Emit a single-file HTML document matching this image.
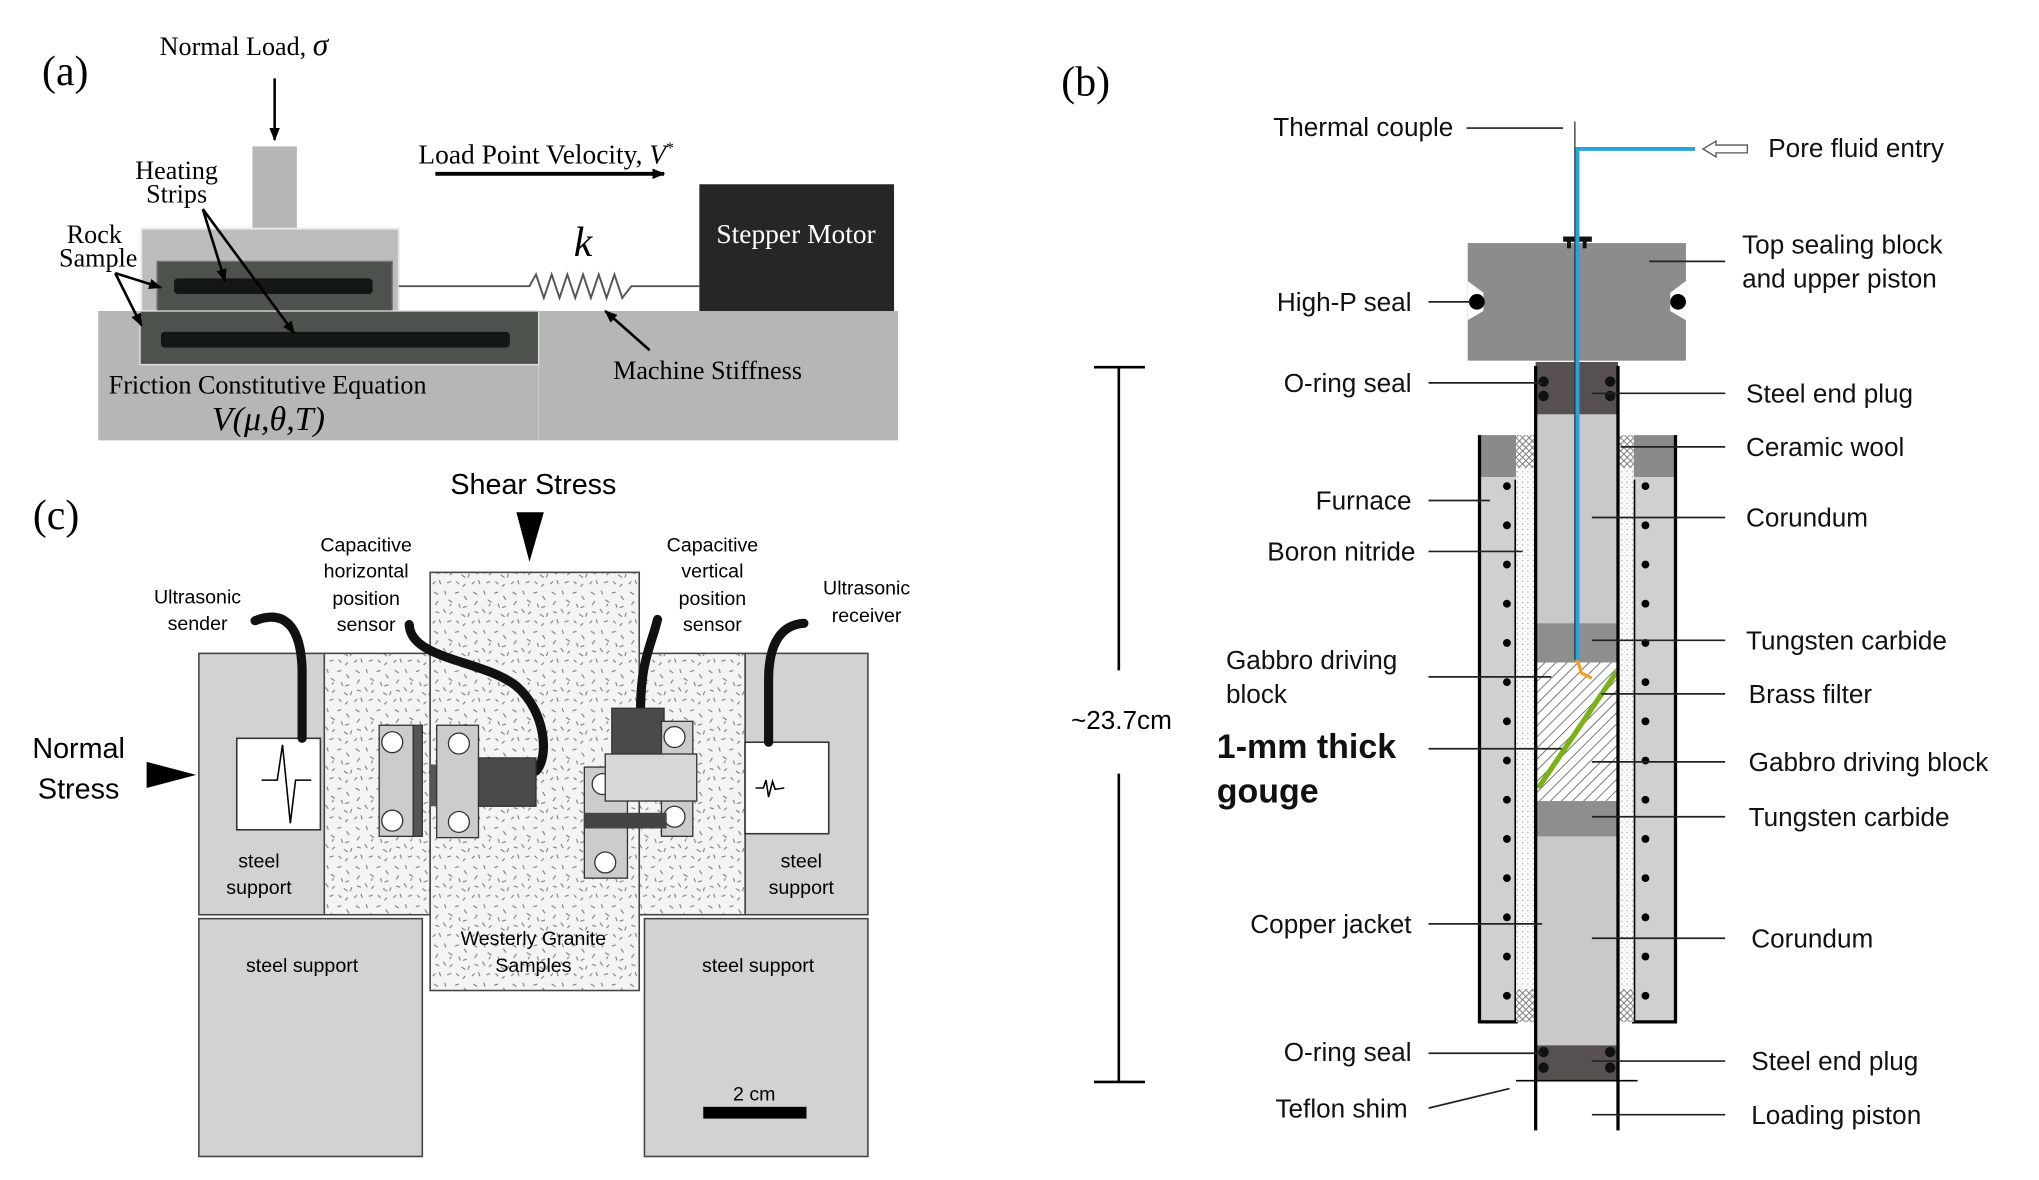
<!DOCTYPE html>
<html><head><meta charset="utf-8"><style>
html,body{margin:0;padding:0;background:#fff;}
svg{display:block;}
.sf{font-family:"Liberation Serif",serif;}
.ss{font-family:"Liberation Sans",sans-serif;}
</style></head><body>
<svg width="2039" height="1180" viewBox="0 0 1560 903" xmlns="http://www.w3.org/2000/svg">
<defs>
<pattern id="spk" width="30" height="30" patternUnits="userSpaceOnUse">
<rect width="30" height="30" fill="#f4f4f4"/>
<g stroke="#777" stroke-width="0.8">
<path d="M2,3l3,2M10,2l1,3M18,4l3,-1M25,6l2,3M5,10l-2,3M13,9l3,2M21,12l1,3M27,14l-3,1M3,18l3,1M9,16l2,3M16,18l-2,2M23,20l3,2M6,24l1,3M12,26l3,-1M19,25l2,2M26,27l-2,2M14,14l1,-2M28,22l1,-3M1,27l2,-2"/>
</g></pattern>
<pattern id="hatch" width="6" height="6" patternUnits="userSpaceOnUse" patternTransform="rotate(45)">
<rect width="6" height="6" fill="#fff"/><line x1="0" y1="0" x2="0" y2="6" stroke="#555" stroke-width="1.2"/></pattern>
<pattern id="xh" width="5" height="5" patternUnits="userSpaceOnUse">
<rect width="5" height="5" fill="#fff"/><path d="M0,0L5,5M5,0L0,5" stroke="#777" stroke-width="0.7"/></pattern>
<pattern id="dots" width="4" height="4" patternUnits="userSpaceOnUse">
<rect width="4" height="4" fill="#fbfbfb"/><circle cx="1" cy="1" r="0.5" fill="#999"/><circle cx="3" cy="3" r="0.4" fill="#bbb"/></pattern>
<marker id="ah" markerWidth="10" markerHeight="8" refX="9" refY="4" orient="auto" markerUnits="userSpaceOnUse"><path d="M0,0L10,4L0,8z" fill="#000"/></marker>
</defs>

<!-- ===== Panel (a) ===== -->
<text x="32" y="65" class="sf" font-size="32">(a)</text>
<rect x="75" y="238" width="612" height="99" fill="#b6b6b6"/>
<line x1="412" y1="238" x2="412" y2="337" stroke="#c8c8c8" stroke-width="1"/>
<rect x="193" y="112" width="34" height="65" fill="#b6b6b6"/>
<rect x="108" y="175" width="197" height="63" fill="#bcbcbc" stroke="#e8e8e8" stroke-width="1.5"/>
<rect x="120" y="200" width="180" height="38" fill="#4d524d" stroke="#777" stroke-width="1"/>
<rect x="133" y="213" width="152" height="12" rx="3" fill="#141814"/>
<rect x="107" y="238" width="305" height="41" fill="#4d524d" stroke="#ddd" stroke-width="1"/>
<rect x="123" y="254" width="267" height="12" rx="3" fill="#141814"/>
<rect x="535" y="141" width="149" height="97" fill="#262626"/>
<text x="609" y="186" class="sf" font-size="21" fill="#fff" text-anchor="middle">Stepper Motor</text>
<polyline points="305,219 405,219 410,210 416,228 422,210 428,228 434,210 440,228 446,210 452,228 458,210 464,228 470,210 476,228 483,219 535,219" fill="none" stroke="#555" stroke-width="1.5"/>
<text x="446" y="196" class="sf" font-size="32" font-style="italic" text-anchor="middle">k</text>
<text x="320" y="125" class="sf" font-size="21">Load Point Velocity, <tspan font-style="italic">V</tspan><tspan font-size="12" dy="-8">*</tspan></text>
<line x1="333" y1="133" x2="508" y2="133" stroke="#000" stroke-width="3" marker-end="url(#ah)"/>
<text x="122" y="42" class="sf" font-size="20">Normal Load, <tspan font-style="italic" font-size="24">σ</tspan></text>
<line x1="210" y1="60" x2="210" y2="107" stroke="#000" stroke-width="2" marker-end="url(#ah)"/>
<text x="135" y="137" class="sf" font-size="20" text-anchor="middle">Heating</text>
<text x="135" y="155" class="sf" font-size="20" text-anchor="middle">Strips</text>
<text x="72" y="186" class="sf" font-size="20" text-anchor="middle">Rock</text>
<text x="75" y="204" class="sf" font-size="20" text-anchor="middle">Sample</text>
<g stroke="#000" stroke-width="2" fill="none">
<line x1="155" y1="160" x2="172" y2="215" marker-end="url(#ah)"/>
<line x1="155" y1="160" x2="225" y2="255" marker-end="url(#ah)"/>
<line x1="88" y1="209" x2="123" y2="220" marker-end="url(#ah)"/>
<line x1="88" y1="209" x2="108" y2="249" marker-end="url(#ah)"/>
<line x1="497" y1="268" x2="463" y2="238" marker-end="url(#ah)"/>
</g>
<text x="83" y="301" class="sf" font-size="20">Friction Constitutive Equation</text>
<text x="162" y="329" class="sf" font-size="26" font-style="italic">V(μ,θ,T)</text>
<text x="469" y="290" class="sf" font-size="20">Machine Stiffness</text>

<!-- ===== Panel (c) ===== -->
<text x="25" y="405" class="sf" font-size="32">(c)</text>
<text x="408" y="378" class="ss" font-size="22" text-anchor="middle">Shear Stress</text>
<path d="M395,392L416,392L405,430z" fill="#000"/>
<text x="60" y="580" class="ss" font-size="22" text-anchor="middle">Normal</text>
<text x="60" y="611" class="ss" font-size="22" text-anchor="middle">Stress</text>
<path d="M112,583L150,593L112,603z" fill="#000"/>
<rect x="152" y="500" width="96" height="200" fill="#d2d2d2" stroke="#444" stroke-width="1.2"/>
<rect x="570" y="500" width="94" height="200" fill="#d2d2d2" stroke="#444" stroke-width="1.2"/>
<rect x="248" y="500" width="81" height="200" fill="url(#spk)" stroke="#444" stroke-width="1.2"/>
<rect x="489" y="500" width="81" height="200" fill="url(#spk)" stroke="#444" stroke-width="1.2"/>
<rect x="329" y="438" width="160" height="320" fill="url(#spk)" stroke="#444" stroke-width="1.2"/>
<rect x="152" y="703" width="171" height="182" fill="#d2d2d2" stroke="#444" stroke-width="1.2"/>
<rect x="493" y="703" width="171" height="182" fill="#d2d2d2" stroke="#444" stroke-width="1.2"/>
<rect x="181" y="565" width="64" height="70" fill="#fff" stroke="#333" stroke-width="1.2"/>
<rect x="570" y="568" width="64" height="70" fill="#fff" stroke="#333" stroke-width="1.2"/>
<polyline points="200,597 212,597 216,570 222,630 226,597 238,597" fill="none" stroke="#000" stroke-width="1.2"/>
<polyline points="578,603 584,603 586,597 588,610 591,598 593,604 600,603" fill="none" stroke="#000" stroke-width="1.2"/>
<!-- cables -->
<g stroke="#111" stroke-width="7" fill="none" stroke-linecap="round">
<path d="M195,475C218,466 230,480 231,512L231,565"/>
<path d="M313,478C314,505 370,505 395,525C418,545 420,580 410,590"/>
<path d="M503,474C498,495 490,505 490,545"/>
<path d="M615,477C598,478 588,492 588,520L588,568"/>
</g>
<!-- left sensor -->
<rect x="290" y="555" width="26" height="85" fill="#ccc" stroke="#333"/>
<rect x="316" y="555" width="7" height="85" fill="#555" stroke="#333"/>
<circle cx="300" cy="568" r="8" fill="#fff" stroke="#333"/>
<circle cx="300" cy="628" r="8" fill="#fff" stroke="#333"/>
<rect x="329" y="585" width="5" height="32" fill="#555"/>
<rect x="334" y="555" width="32" height="86" fill="#ccc" stroke="#333"/>
<circle cx="351" cy="569" r="8" fill="#fff" stroke="#333"/>
<circle cx="351" cy="629" r="8" fill="#fff" stroke="#333"/>
<rect x="366" y="580" width="44" height="37" fill="#4a4a4a" stroke="#333"/>
<!-- right sensor -->
<rect x="468" y="542" width="40" height="38" fill="#4a4a4a" stroke="#333"/>
<rect x="447" y="587" width="33" height="85" fill="#ccc" stroke="#333"/>
<circle cx="461" cy="600" r="8" fill="#fff" stroke="#333"/>
<circle cx="463" cy="660" r="8" fill="#fff" stroke="#333"/>
<rect x="506" y="552" width="24" height="88" fill="#ccc" stroke="#333"/>
<circle cx="516" cy="564" r="8" fill="#fff" stroke="#333"/>
<circle cx="516" cy="625" r="8" fill="#fff" stroke="#333"/>
<rect x="463" y="577" width="70" height="36" fill="#d8d8d8" stroke="#333"/>
<rect x="447" y="622" width="63" height="12" fill="#444"/>
<g class="ss" font-size="15" text-anchor="middle">
<text x="151" y="462">Ultrasonic</text><text x="151" y="482">sender</text>
<text x="280" y="422">Capacitive</text><text x="280" y="442">horizontal</text><text x="280" y="463">position</text><text x="280" y="483">sensor</text>
<text x="545" y="422">Capacitive</text><text x="545" y="442">vertical</text><text x="545" y="463">position</text><text x="545" y="483">sensor</text>
<text x="663" y="455">Ultrasonic</text><text x="663" y="476">receiver</text>
<text x="198" y="664">steel</text><text x="198" y="684">support</text>
<text x="613" y="664">steel</text><text x="613" y="684">support</text>
<text x="231" y="744">steel support</text>
<text x="580" y="744">steel support</text>
<text x="408" y="723">Westerly Granite</text><text x="408" y="744">Samples</text>
<text x="577" y="842">2 cm</text>
</g>
<rect x="538" y="847" width="79" height="9" fill="#000"/>

<!-- ===== Panel (b) ===== -->
<text x="812" y="73" class="sf" font-size="32">(b)</text>
<!-- scale bar -->
<g stroke="#000" stroke-width="2">
<line x1="856" y1="281" x2="856" y2="513"/><line x1="856" y1="592" x2="856" y2="828"/>
<line x1="837" y1="281" x2="876" y2="281"/><line x1="837" y1="828" x2="876" y2="828"/>
</g>
<text x="858" y="558" class="ss" font-size="20" text-anchor="middle">~23.7cm</text>
<!-- furnace -->
<rect x="1132" y="333" width="28" height="449" fill="#d0d0d0"/>
<rect x="1132" y="333" width="28" height="32" fill="#8a8a8a"/>
<rect x="1250" y="333" width="32" height="449" fill="#d0d0d0"/>
<rect x="1250" y="333" width="32" height="32" fill="#8a8a8a"/>
<path d="M1132,333L1132,782L1160,782L1160,367" fill="none" stroke="#000" stroke-width="2.5"/>
<path d="M1250,367L1250,782L1282,782L1282,333" fill="none" stroke="#000" stroke-width="2.5"/>
<rect x="1160" y="333" width="15" height="449" fill="url(#dots)"/>
<rect x="1238" y="333" width="12" height="449" fill="url(#dots)"/>
<rect x="1160" y="333" width="15" height="25" fill="url(#xh)"/>
<rect x="1238" y="333" width="12" height="25" fill="url(#xh)"/>
<rect x="1160" y="757" width="15" height="25" fill="url(#xh)"/>
<rect x="1238" y="757" width="12" height="25" fill="url(#xh)"/>
<g fill="#000">
<circle cx="1153" cy="372" r="3"/><circle cx="1153" cy="402" r="3"/><circle cx="1153" cy="432" r="3"/><circle cx="1153" cy="462" r="3"/><circle cx="1153" cy="492" r="3"/><circle cx="1153" cy="522" r="3"/><circle cx="1153" cy="552" r="3"/><circle cx="1153" cy="582" r="3"/><circle cx="1153" cy="612" r="3"/><circle cx="1153" cy="642" r="3"/><circle cx="1153" cy="672" r="3"/><circle cx="1153" cy="702" r="3"/><circle cx="1153" cy="732" r="3"/><circle cx="1153" cy="762" r="3"/>
<circle cx="1259" cy="372" r="3"/><circle cx="1259" cy="402" r="3"/><circle cx="1259" cy="432" r="3"/><circle cx="1259" cy="462" r="3"/><circle cx="1259" cy="492" r="3"/><circle cx="1259" cy="522" r="3"/><circle cx="1259" cy="552" r="3"/><circle cx="1259" cy="582" r="3"/><circle cx="1259" cy="612" r="3"/><circle cx="1259" cy="642" r="3"/><circle cx="1259" cy="672" r="3"/><circle cx="1259" cy="702" r="3"/><circle cx="1259" cy="732" r="3"/><circle cx="1259" cy="762" r="3"/>
</g>
<!-- column -->
<rect x="1175" y="277" width="63" height="550" fill="#c9c9c9"/>
<rect x="1175" y="277" width="63" height="40" fill="#565050"/>
<rect x="1175" y="800" width="63" height="27" fill="#565050"/>
<rect x="1175" y="477" width="63" height="30" fill="#8e8e8e"/>
<rect x="1175" y="507" width="63" height="106" fill="url(#hatch)"/>
<rect x="1175" y="613" width="63" height="27" fill="#8e8e8e"/>
<line x1="1237" y1="514" x2="1177" y2="603" stroke="#7ab317" stroke-width="4"/>
<path d="M1207,505L1210,515L1218,519" fill="none" stroke="#f3a11f" stroke-width="2.5"/>
<g stroke="#000" stroke-width="2.5">
<line x1="1175" y1="280" x2="1175" y2="865"/><line x1="1238" y1="280" x2="1238" y2="865"/>
</g>
<line x1="1160" y1="827" x2="1253" y2="827" stroke="#000" stroke-width="1.2"/>
<g fill="#111">
<circle cx="1181" cy="292" r="4"/><circle cx="1181" cy="303" r="4"/><circle cx="1232" cy="292" r="4"/><circle cx="1232" cy="303" r="4"/>
<circle cx="1181" cy="805" r="4"/><circle cx="1181" cy="817" r="4"/><circle cx="1232" cy="805" r="4"/><circle cx="1232" cy="817" r="4"/>
</g>
<!-- top block -->
<rect x="1123" y="186" width="167" height="90" fill="#8c8c8c"/>
<path d="M1123,215L1135,224L1135,238L1123,245z" fill="#fff"/>
<path d="M1290,215L1278,224L1278,238L1290,245z" fill="#fff"/>
<circle cx="1130" cy="231" r="6" fill="#000"/><circle cx="1284" cy="231" r="6" fill="#000"/>
<rect x="1196" y="181" width="22" height="4" fill="#111"/>
<rect x="1199" y="183" width="3" height="7" fill="#111"/><rect x="1211" y="183" width="3" height="7" fill="#111"/>
<!-- thermocouple & fluid -->
<line x1="1205" y1="93" x2="1205" y2="505" stroke="#333" stroke-width="1"/>
<path d="M1297,114L1207,114L1207,505" fill="none" stroke="#29a3de" stroke-width="3"/>
<path d="M1337,111L1313,111L1313,108L1303,114L1313,120L1313,117L1337,117z" fill="#fff" stroke="#555" stroke-width="1"/>
<!-- label lines -->
<g stroke="#222" stroke-width="1.3">
<line x1="1122" y1="98" x2="1196" y2="98"/>
<line x1="1093" y1="231" x2="1125" y2="231"/>
<line x1="1093" y1="293" x2="1180" y2="293"/>
<line x1="1093" y1="383" x2="1140" y2="383"/>
<line x1="1093" y1="422" x2="1165" y2="422"/>
<line x1="1093" y1="518" x2="1187" y2="518"/>
<line x1="1093" y1="573" x2="1195" y2="573"/>
<line x1="1093" y1="707" x2="1180" y2="707"/>
<line x1="1093" y1="806" x2="1180" y2="806"/>
<line x1="1093" y1="848" x2="1155" y2="833"/>
<line x1="1262" y1="200" x2="1320" y2="200"/>
<line x1="1218" y1="301" x2="1320" y2="301"/>
<line x1="1240" y1="342" x2="1320" y2="342"/>
<line x1="1218" y1="396" x2="1320" y2="396"/>
<line x1="1218" y1="490" x2="1320" y2="490"/>
<line x1="1225" y1="531" x2="1320" y2="531"/>
<line x1="1218" y1="583" x2="1320" y2="583"/>
<line x1="1218" y1="625" x2="1320" y2="625"/>
<line x1="1218" y1="718" x2="1320" y2="718"/>
<line x1="1218" y1="812" x2="1320" y2="812"/>
<line x1="1218" y1="853" x2="1320" y2="853"/>
</g>
<g class="ss" font-size="20" fill="#111">
<g text-anchor="end">
<text x="1112" y="104">Thermal couple</text>
<text x="1080" y="238">High-P seal</text>
<text x="1080" y="300">O-ring seal</text>
<text x="1080" y="390">Furnace</text>
<text x="1083" y="429">Boron nitride</text>
<text x="1080" y="714">Copper jacket</text>
<text x="1080" y="812">O-ring seal</text>
<text x="1077" y="855">Teflon shim</text>
</g>
<text x="938" y="512">Gabbro driving</text><text x="938" y="538">block</text>
<text x="931" y="580" font-weight="bold" font-size="26">1-mm thick</text>
<text x="931" y="614" font-weight="bold" font-size="26">gouge</text>
<text x="1353" y="120">Pore fluid entry</text>
<text x="1333" y="194">Top sealing block</text><text x="1333" y="220">and upper piston</text>
<text x="1336" y="308">Steel end plug</text>
<text x="1336" y="349">Ceramic wool</text>
<text x="1336" y="403">Corundum</text>
<text x="1336" y="497">Tungsten carbide</text>
<text x="1338" y="538">Brass filter</text>
<text x="1338" y="590">Gabbro driving block</text>
<text x="1338" y="632">Tungsten carbide</text>
<text x="1340" y="725">Corundum</text>
<text x="1340" y="819">Steel end plug</text>
<text x="1340" y="860">Loading piston</text>
</g>
</svg>
</body></html>
